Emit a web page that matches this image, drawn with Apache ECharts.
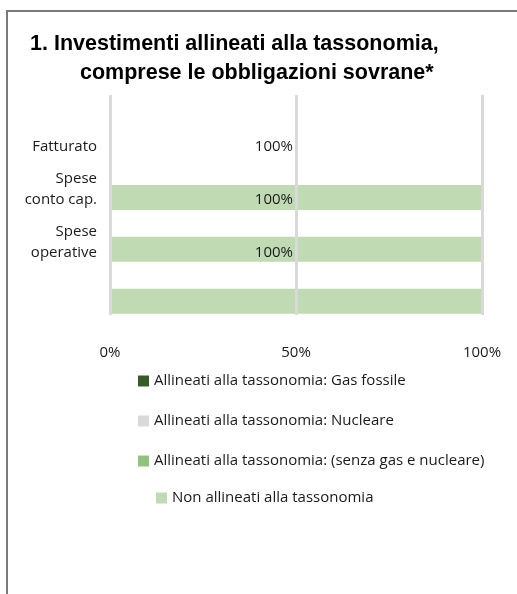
<!DOCTYPE html>
<html><head><meta charset="utf-8">
<script src="https://cdn.jsdelivr.net/npm/echarts@6/dist/echarts.min.js"></script>
<style>html,body{margin:0;padding:0;background:#fff}#c{width:517px;height:594px}</style>
</head><body><div id="c"></div>
<script>
const categories = ['Fatturato', 'Spese\nconto cap.', 'Spese\noperative'];
const gasFossile = [0, 0, 0];
const nucleare = [0, 0, 0];
const senzaGasNucleare = [0, 0, 0];
const nonAllineati = [100, 100, 100];
const xTicks = [0, 50, 100];
const seriesNames = [
  'Allineati alla tassonomia: Gas fossile',
  'Allineati alla tassonomia: Nucleare',
  'Allineati alla tassonomia: (senza gas e nucleare)',
  'Non allineati alla tassonomia'
];
const colors = ['#3b5a29', '#d9d9d9', '#92c27d', '#c0dab4'];
const titleLines = ['1. Investimenti allineati alla tassonomia,', 'comprese le obbligazioni sovrane*'];

const FONT = 'Open Sans';
const FS = 15;
const TXT = '#1a1a1a';
const chart = echarts.init(document.getElementById('c'), null, {renderer: 'canvas'});

const values = [gasFossile, nucleare, senzaGasNucleare, nonAllineati];
const legendTops = [372.5, 412.5, 452.5, 489.5];
const legendLefts = [138, 138, 138, 156];

const option = {
  animation: false,
  backgroundColor: '#fff',
  graphic: [{
    type: 'rect', silent: true, z: 100,
    shape: {x: 7, y: 11, width: 700, height: 700},
    style: {fill: 'none', stroke: '#7a7a7a', lineWidth: 2}
  }],
  title: [
    {text: titleLines[0], left: 30, top: 32, padding: 0,
     textStyle: {fontFamily: 'Liberation Sans', fontWeight: 'bold', fontSize: 21.5, color: '#000', lineHeight: 24}},
    {text: titleLines[1], left: 80, top: 61, padding: 0,
     textStyle: {fontFamily: 'Liberation Sans', fontWeight: 'bold', fontSize: 21.5, color: '#000', lineHeight: 24}}
  ],
  legend: seriesNames.map((n, i) => ({
    data: [n], left: legendLefts[i], top: legendTops[i], orient: 'vertical',
    padding: 0, itemGap: 0, itemWidth: 11, itemHeight: 11, icon: 'rect',
    selectedMode: false,
    textStyle: {fontFamily: FONT, fontSize: FS, color: TXT, lineHeight: 17}
  })),
  grid: [
    {left: 110, right: 35, top: 95, height: 220},
    {left: 110, right: 35, top: 120.5, height: 159},
    {left: 110, right: 35, top: 171.5, height: 155.7}
  ],
  xAxis: [
    {gridIndex: 0, type: 'value', min: xTicks[0], max: xTicks[xTicks.length - 1], interval: xTicks[1] - xTicks[0], z: 5,
     axisLine: {show: false}, axisTick: {show: false},
     splitLine: {show: true, lineStyle: {color: '#d9d9d9', width: 3}},
     axisLabel: {formatter: '{value}%', margin: 30, fontFamily: FONT, fontSize: FS, color: TXT}},
    {gridIndex: 1, type: 'value', min: 0, max: 100, show: false},
    {gridIndex: 2, type: 'value', min: 0, max: 100, show: false}
  ],
  yAxis: [
    {gridIndex: 0, type: 'category', data: categories, inverse: true, show: false},
    {gridIndex: 1, type: 'category', data: categories, inverse: true,
     axisLine: {show: false}, axisTick: {show: false}, splitLine: {show: false},
     axisLabel: {interval: 0, hideOverlap: false, margin: 13, fontFamily: FONT, fontSize: FS, color: TXT, lineHeight: 21.5,
       formatter: v => v.indexOf('\n') >= 0 ? v + '\n\u00a0' : v}},
    {gridIndex: 2, type: 'category', data: categories, inverse: true, show: false}
  ],
  series: values.map((d, i) => ({
    name: seriesNames[i], type: 'bar', stack: 'tot', xAxisIndex: 2, yAxisIndex: 2,
    data: d, barWidth: 25, itemStyle: {color: colors[i]}, silent: true
  })).concat([{
    name: 'etichette', type: 'bar', xAxisIndex: 1, yAxisIndex: 1, data: nonAllineati,
    barWidth: 25, itemStyle: {color: 'rgba(0,0,0,0)'}, silent: true, z: 6,
    label: {show: true, position: ['50%', '50%'], align: 'right', verticalAlign: 'middle', offset: [-3, 0],
      formatter: p => p.value + '%', fontFamily: FONT, fontSize: FS, color: TXT}
  }])
};
chart.setOption(option);
</script>
</body></html>
